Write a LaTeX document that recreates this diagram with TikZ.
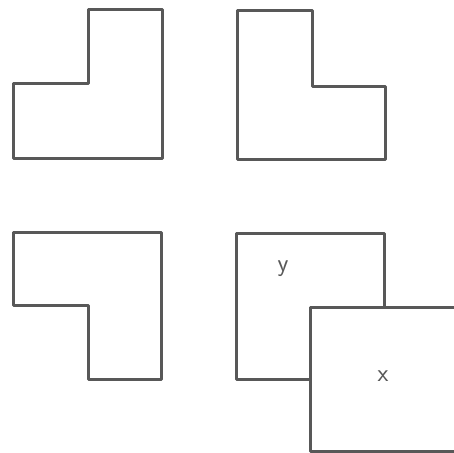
\documentclass[tikz,border=0pt]{standalone}
\definecolor{lmgray}{RGB}{88,88,88}

\begin{document}
\begin{tikzpicture}[x=1pt,y=-1pt,line width=3pt,line join=round,
    tile/.style={draw=lmgray,fill=white},
    tag/.style={text=lmgray,font=\sffamily\fontsize{25}{25}\selectfont}]
  \useasboundingbox (0,0) rectangle (454,452);
  % the three L shapes
  \draw[tile] (88,10) -- (162,10) -- (162,158) -- (13,158) -- (13,83) -- (88,83) -- cycle;
  \draw[tile] (237,11) -- (312,11) -- (312,86) -- (385,86) -- (385,159) -- (237,159) -- cycle;
  \draw[tile] (13,232) -- (161,232) -- (161,379) -- (88,379) -- (88,305) -- (13,305) -- cycle;
  % square y with square x laid over it
  \draw[tile] (236,233) rectangle (384,379);
  \node[tag] (ylab) at (283,269) {y};
  \begin{scope}
    \clip (0,0) rectangle (454,452);
    \draw[tile] (310,307) rectangle (455,451);
  \end{scope}
  \node[tag] (xlab) at (383,376) {x};
\end{tikzpicture}
\end{document}
